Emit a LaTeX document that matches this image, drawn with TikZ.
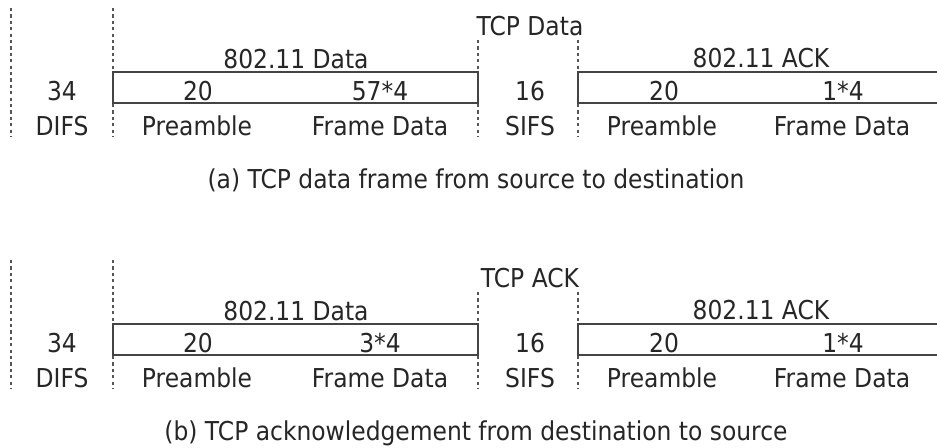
\documentclass[tikz,border=0pt]{standalone}
\usepackage{fontspec}
\setmainfont{DejaVu Sans}[FakeStretch=0.9]
\definecolor{ink}{HTML}{262626}
\definecolor{rule}{HTML}{444444}
\definecolor{gapline}{HTML}{555555}

% One timing panel: DIFS | 802.11 data frame | SIFS | 802.11 ACK frame
% #1 name prefix, #2 vertical offset, #3 label over the SIFS gap,
% #4 frame-data length of the data frame, #5 caption
\newcommand\timingpanel[5]{%
  \begin{scope}[shift={(0,#2)}]
    % interframe space boundaries
    \coordinate (#1d0t) at (11,8);    \coordinate (#1d0b) at (11,137);
    \coordinate (#1d1t) at (113,8);   \coordinate (#1d1b) at (113,137);
    \coordinate (#1s0t) at (478,40);  \coordinate (#1s0b) at (478,137);
    \coordinate (#1s1t) at (578,40);  \coordinate (#1s1b) at (578,137);
    \draw[gap] (#1d0t) -- (#1d0b);
    \draw[gap] (#1d1t) -- (#1d1b);
    \draw[gap] (#1s0t) -- (#1s0b);
    \draw[gap] (#1s1t) -- (#1s1b);
    % data frame box
    \draw[framebox] (113,72) rectangle (478,103);
    % ACK frame box, running on past the right edge
    \draw[framebox] (940,72) -- (578,72) -- (578,103) -- (940,103);
    % labels
    \node[lbl] (#1tcp)   at (530,35)  {#3};
    \node[lbl] (#1dhead) at (296,68)  {802.11 Data};
    \node[lbl] (#1ahead) at (761,67)  {802.11 ACK};
    \node[lbl] (#1difs)  at (62,100)  {34};
    \node[lbl] (#1dpre)  at (198,100) {20};
    \node[lbl] (#1dlen)  at (380,100) {#4};
    \node[lbl] (#1sifs)  at (530,100) {16};
    \node[lbl] (#1apre)  at (664,100) {20};
    \node[lbl] (#1alen)  at (843,100) {1*4};
    \node[lbl] (#1difsn) at (62,135)  {DIFS};
    \node[lbl] (#1dpren) at (197,135) {Preamble};
    \node[lbl] (#1dlenn) at (380,135) {Frame Data};
    \node[lbl] (#1sifsn) at (530,135) {SIFS};
    \node[lbl] (#1apren) at (662,135) {Preamble};
    \node[lbl] (#1alenn) at (842,135) {Frame Data};
    \node[lbl] (#1cap)   at (476,188) {#5};
  \end{scope}}

\begin{document}
\begin{tikzpicture}[x=0.75pt,y=-0.75pt,
  lbl/.style={font=\fontsize{19.5}{22}\selectfont, text=ink, inner sep=0pt, anchor=base},
  framebox/.style={draw=rule, line width=0.9pt},
  gap/.style={draw=gapline, line width=1pt, dash pattern=on 2.4pt off 2.4pt}]
  \useasboundingbox[fill=white] (0,0) rectangle (937,447);
  \timingpanel{a}{0}{TCP Data}{57*4}{(a) TCP data frame from source to destination}
  \timingpanel{b}{252}{TCP ACK}{3*4}{(b) TCP acknowledgement from destination to source}
\end{tikzpicture}
\end{document}
